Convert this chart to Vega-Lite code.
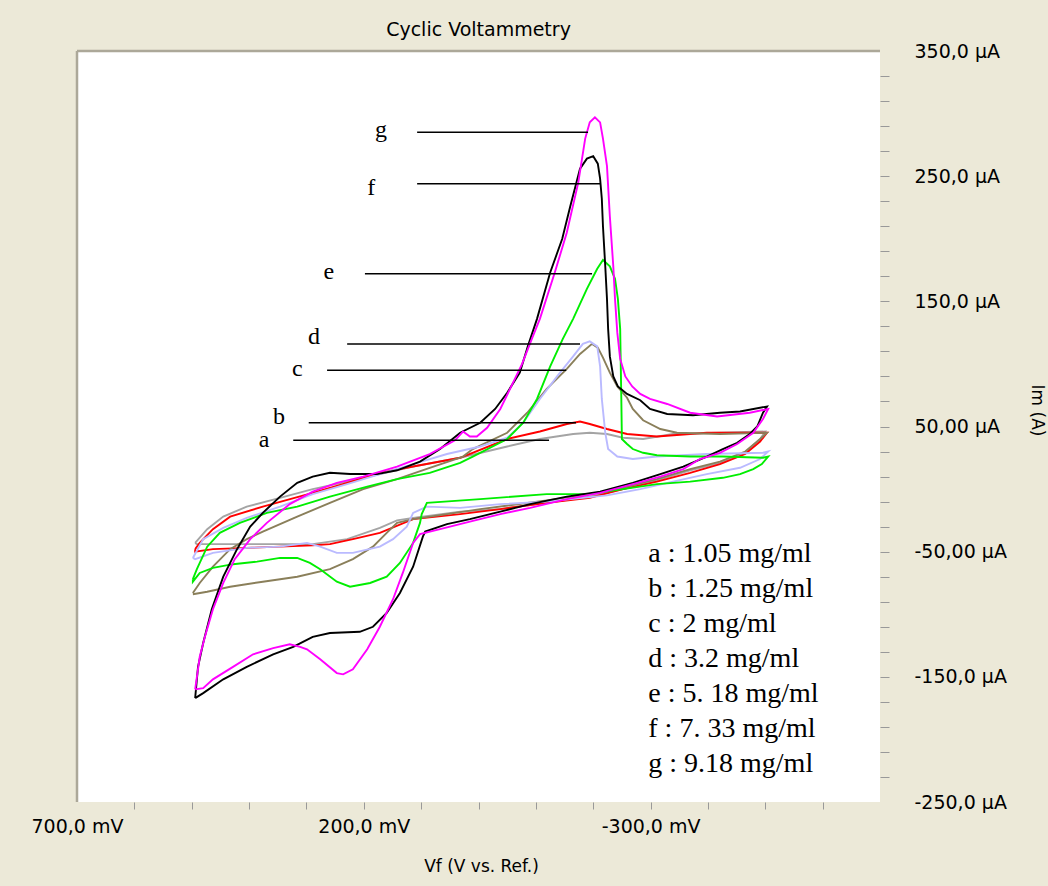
{
  "$schema": "https://vega.github.io/schema/vega-lite/v6.json",
  "width": 803,
  "height": 751,
  "autosize": "none",
  "padding": {"left": 77, "top": 51, "right": 168, "bottom": 84},
  "background": "#ECE9D8",
  "title": {"text": "Cyclic Voltammetry", "font": "DejaVu Sans", "fontSize": 19, "fontWeight": "normal", "color": "black", "offset": 2, "frame": "group"},
  "config": {
    "view": {"fill": "white", "stroke": null},
    "axis": {"grid": false, "domain": false, "labelFont": "DejaVu Sans", "titleFont": "DejaVu Sans", "labelColor": "black", "titleColor": "black", "labelFontSize": 19, "titleFontSize": 17, "titleFontWeight": "normal", "tickColor": "#999999", "labelOverlap": false}
  },
  "encoding": {
    "x": {"field": "mv", "type": "quantitative", "scale": {"domain": [700, -700], "nice": false, "zero": false},
      "axis": {"title": "Vf (V vs. Ref.)", "titleX": 404, "titleY": 64, "titleAlign": "center", "titleBaseline": "middle",
        "values": [700,600,500,400,300,200,100,0,-100,-200,-300,-400,-500,-600],
        "labelExpr": "datum.value == 700 ? '700,0 mV' : datum.value == 200 ? '200,0 mV' : datum.value == -300 ? '-300,0 mV' : ''",
        "tickSize": 7, "labelPadding": 8, "labelFlush": false, "labelDx": -6,
        "tickOpacity": {"condition": {"test": "datum.value == 700", "value": 0}, "value": 1}}},
    "y": {"field": "ua", "type": "quantitative", "scale": {"domain": [-250, 350], "nice": false, "zero": false},
      "axis": {"orient": "right", "title": "Im (A)", "titleX": 156, "titleY": 359, "titleAngle": 90, "titleAlign": "center", "titleBaseline": "middle",
        "values": [350,330,310,290,270,250,230,210,190,170,150,130,110,90,70,50,30,10,-10,-30,-50,-70,-90,-110,-130,-150,-170,-190,-210,-230,-250],
        "labelExpr": "(350 - datum.value) % 100 == 0 ? (abs(datum.value) >= 100 ? datum.value + ',0 µA' : datum.value + ',00 µA') : ''",
        "tickSize": 9, "labelPadding": 25,
        "tickOpacity": {"condition": {"test": "datum.value == 350 || datum.value == -250", "value": 0}, "value": 1}}}
  },
  "datasets": {
    "curves": [
      {"k":"a","i":1,"mv":494,"ua":-43},{"k":"a","i":2,"mv":473,"ua":-32},{"k":"a","i":3,"mv":445,"ua":-22},{"k":"a","i":4,"mv":404,"ua":-14},{"k":"a","i":5,"mv":346,"ua":-7},{"k":"a","i":6,"mv":289,"ua":0},{"k":"a","i":7,"mv":229,"ua":6},{"k":"a","i":8,"mv":172,"ua":12},{"k":"a","i":9,"mv":114,"ua":18},{"k":"a","i":10,"mv":32,"ua":25},{"k":"a","i":11,"mv":-50,"ua":34},{"k":"a","i":12,"mv":-107,"ua":40},{"k":"a","i":13,"mv":-165,"ua":44},{"k":"a","i":14,"mv":-194,"ua":45},{"k":"a","i":15,"mv":-224,"ua":44},{"k":"a","i":16,"mv":-252,"ua":41},{"k":"a","i":17,"mv":-287,"ua":40},{"k":"a","i":18,"mv":-339,"ua":44},{"k":"a","i":19,"mv":-421,"ua":45},{"k":"a","i":20,"mv":-500,"ua":46},
      {"k":"a","i":21,"mv":-491,"ua":40},{"k":"a","i":22,"mv":-465,"ua":29},{"k":"a","i":23,"mv":-421,"ua":21},{"k":"a","i":24,"mv":-369,"ua":15},{"k":"a","i":25,"mv":-311,"ua":7},{"k":"a","i":26,"mv":-252,"ua":0},{"k":"a","i":27,"mv":-194,"ua":-6},{"k":"a","i":28,"mv":-119,"ua":-11},{"k":"a","i":29,"mv":-38,"ua":-16},{"k":"a","i":30,"mv":32,"ua":-18},{"k":"a","i":31,"mv":114,"ua":-23},{"k":"a","i":32,"mv":142,"ua":-25},{"k":"a","i":33,"mv":172,"ua":-31},{"k":"a","i":34,"mv":229,"ua":-40},{"k":"a","i":35,"mv":289,"ua":-44},{"k":"a","i":36,"mv":404,"ua":-44},{"k":"a","i":37,"mv":491,"ua":-44},{"k":"a","i":38,"mv":494,"ua":-43},

      {"k":"b","i":1,"mv":494,"ua":-48},{"k":"b","i":2,"mv":486,"ua":-43},{"k":"b","i":3,"mv":463,"ua":-32},{"k":"b","i":4,"mv":433,"ua":-22},{"k":"b","i":5,"mv":376,"ua":-14},{"k":"b","i":6,"mv":289,"ua":-3},{"k":"b","i":7,"mv":229,"ua":5},{"k":"b","i":8,"mv":172,"ua":13},{"k":"b","i":9,"mv":114,"ua":18},{"k":"b","i":10,"mv":32,"ua":25},{"k":"b","i":11,"mv":-50,"ua":40},{"k":"b","i":12,"mv":-107,"ua":46},{"k":"b","i":13,"mv":-154,"ua":52},{"k":"b","i":14,"mv":-177,"ua":54},{"k":"b","i":15,"mv":-194,"ua":52},{"k":"b","i":16,"mv":-224,"ua":48},{"k":"b","i":17,"mv":-259,"ua":44},{"k":"b","i":18,"mv":-311,"ua":42},{"k":"b","i":19,"mv":-398,"ua":45},{"k":"b","i":20,"mv":-503,"ua":45},
      {"k":"b","i":21,"mv":-491,"ua":38},{"k":"b","i":22,"mv":-465,"ua":28},{"k":"b","i":23,"mv":-421,"ua":20},{"k":"b","i":24,"mv":-369,"ua":13},{"k":"b","i":25,"mv":-311,"ua":6},{"k":"b","i":26,"mv":-252,"ua":0},{"k":"b","i":27,"mv":-194,"ua":-7},{"k":"b","i":28,"mv":-119,"ua":-11},{"k":"b","i":29,"mv":-38,"ua":-16},{"k":"b","i":30,"mv":32,"ua":-20},{"k":"b","i":31,"mv":114,"ua":-24},{"k":"b","i":32,"mv":172,"ua":-35},{"k":"b","i":33,"mv":219,"ua":-40},{"k":"b","i":34,"mv":259,"ua":-44},{"k":"b","i":35,"mv":289,"ua":-45},{"k":"b","i":36,"mv":404,"ua":-47},{"k":"b","i":37,"mv":463,"ua":-48},{"k":"b","i":38,"mv":494,"ua":-50},{"k":"b","i":39,"mv":494,"ua":-48},

      {"k":"c","i":1,"mv":498,"ua":-83},{"k":"c","i":2,"mv":486,"ua":-75},{"k":"c","i":3,"mv":463,"ua":-62},{"k":"c","i":4,"mv":433,"ua":-48},{"k":"c","i":5,"mv":404,"ua":-40},{"k":"c","i":6,"mv":376,"ua":-34},{"k":"c","i":7,"mv":316,"ua":-22},{"k":"c","i":8,"mv":259,"ua":-11},{"k":"c","i":9,"mv":201,"ua":0},{"k":"c","i":10,"mv":142,"ua":8},{"k":"c","i":11,"mv":85,"ua":17},{"k":"c","i":12,"mv":27,"ua":26},{"k":"c","i":13,"mv":10,"ua":32},{"k":"c","i":14,"mv":-50,"ua":45},{"k":"c","i":15,"mv":-85,"ua":61},{"k":"c","i":16,"mv":-119,"ua":80},{"k":"c","i":17,"mv":-154,"ua":96},{"k":"c","i":18,"mv":-177,"ua":108},{"k":"c","i":19,"mv":-198,"ua":116},{"k":"c","i":20,"mv":-208,"ua":113},{"k":"c","i":21,"mv":-217,"ua":105},{"k":"c","i":22,"mv":-229,"ua":93},{"k":"c","i":23,"mv":-242,"ua":82},{"k":"c","i":24,"mv":-259,"ua":73},{"k":"c","i":25,"mv":-269,"ua":64},{"k":"c","i":26,"mv":-287,"ua":55},{"k":"c","i":27,"mv":-317,"ua":48},{"k":"c","i":28,"mv":-346,"ua":45},{"k":"c","i":29,"mv":-421,"ua":44},{"k":"c","i":30,"mv":-503,"ua":45},
      {"k":"c","i":31,"mv":-491,"ua":40},{"k":"c","i":32,"mv":-465,"ua":30},{"k":"c","i":33,"mv":-421,"ua":22},{"k":"c","i":34,"mv":-369,"ua":16},{"k":"c","i":35,"mv":-311,"ua":8},{"k":"c","i":36,"mv":-252,"ua":1},{"k":"c","i":37,"mv":-194,"ua":-4},{"k":"c","i":38,"mv":-119,"ua":-9},{"k":"c","i":39,"mv":-3,"ua":-16},{"k":"c","i":40,"mv":55,"ua":-20},{"k":"c","i":41,"mv":114,"ua":-24},{"k":"c","i":42,"mv":142,"ua":-27},{"k":"c","i":43,"mv":160,"ua":-35},{"k":"c","i":44,"mv":184,"ua":-46},{"k":"c","i":45,"mv":219,"ua":-56},{"k":"c","i":46,"mv":259,"ua":-64},{"k":"c","i":47,"mv":316,"ua":-70},{"k":"c","i":48,"mv":376,"ua":-74},{"k":"c","i":49,"mv":433,"ua":-78},{"k":"c","i":50,"mv":473,"ua":-82},{"k":"c","i":51,"mv":498,"ua":-84},

      {"k":"d","i":1,"mv":498,"ua":-55},{"k":"d","i":2,"mv":480,"ua":-40},{"k":"d","i":3,"mv":445,"ua":-31},{"k":"d","i":4,"mv":404,"ua":-23},{"k":"d","i":5,"mv":346,"ua":-14},{"k":"d","i":6,"mv":289,"ua":-4},{"k":"d","i":7,"mv":229,"ua":4},{"k":"d","i":8,"mv":172,"ua":12},{"k":"d","i":9,"mv":114,"ua":20},{"k":"d","i":10,"mv":55,"ua":28},{"k":"d","i":11,"mv":-3,"ua":34},{"k":"d","i":12,"mv":-50,"ua":41},{"k":"d","i":13,"mv":-78,"ua":53},{"k":"d","i":14,"mv":-107,"ua":72},{"k":"d","i":15,"mv":-137,"ua":90},{"k":"d","i":16,"mv":-165,"ua":106},{"k":"d","i":17,"mv":-182,"ua":116},{"k":"d","i":18,"mv":-194,"ua":118},{"k":"d","i":19,"mv":-207,"ua":114},{"k":"d","i":20,"mv":-212,"ua":98},{"k":"d","i":21,"mv":-215,"ua":72},{"k":"d","i":22,"mv":-221,"ua":45},{"k":"d","i":23,"mv":-226,"ua":32},{"k":"d","i":24,"mv":-242,"ua":26},{"k":"d","i":25,"mv":-269,"ua":24},{"k":"d","i":26,"mv":-311,"ua":26},{"k":"d","i":27,"mv":-398,"ua":28},{"k":"d","i":28,"mv":-496,"ua":29},{"k":"d","i":29,"mv":-505,"ua":30},
      {"k":"d","i":30,"mv":-491,"ua":24},{"k":"d","i":31,"mv":-456,"ua":17},{"k":"d","i":32,"mv":-398,"ua":12},{"k":"d","i":33,"mv":-339,"ua":6},{"k":"d","i":34,"mv":-282,"ua":0},{"k":"d","i":35,"mv":-224,"ua":-5},{"k":"d","i":36,"mv":-119,"ua":-10},{"k":"d","i":37,"mv":-38,"ua":-12},{"k":"d","i":38,"mv":32,"ua":-15},{"k":"d","i":39,"mv":90,"ua":-14},{"k":"d","i":40,"mv":114,"ua":-19},{"k":"d","i":41,"mv":125,"ua":-30},{"k":"d","i":42,"mv":149,"ua":-40},{"k":"d","i":43,"mv":172,"ua":-46},{"k":"d","i":44,"mv":219,"ua":-51},{"k":"d","i":45,"mv":247,"ua":-51},{"k":"d","i":46,"mv":276,"ua":-46},{"k":"d","i":47,"mv":299,"ua":-43},{"k":"d","i":48,"mv":346,"ua":-46},{"k":"d","i":49,"mv":404,"ua":-47},{"k":"d","i":50,"mv":463,"ua":-51},{"k":"d","i":51,"mv":494,"ua":-56},{"k":"d","i":52,"mv":498,"ua":-55},

      {"k":"e","i":1,"mv":498,"ua":-72},{"k":"e","i":2,"mv":491,"ua":-64},{"k":"e","i":3,"mv":473,"ua":-46},{"k":"e","i":4,"mv":451,"ua":-35},{"k":"e","i":5,"mv":416,"ua":-27},{"k":"e","i":6,"mv":369,"ua":-19},{"k":"e","i":7,"mv":316,"ua":-14},{"k":"e","i":8,"mv":259,"ua":-6},{"k":"e","i":9,"mv":194,"ua":2},{"k":"e","i":10,"mv":142,"ua":8},{"k":"e","i":11,"mv":85,"ua":13},{"k":"e","i":12,"mv":32,"ua":21},{"k":"e","i":13,"mv":10,"ua":26},{"k":"e","i":14,"mv":-50,"ua":40},{"k":"e","i":15,"mv":-78,"ua":53},{"k":"e","i":16,"mv":-102,"ua":72},{"k":"e","i":17,"mv":-125,"ua":98},{"k":"e","i":18,"mv":-147,"ua":120},{"k":"e","i":19,"mv":-165,"ua":136},{"k":"e","i":20,"mv":-189,"ua":160},{"k":"e","i":21,"mv":-207,"ua":176},{"k":"e","i":22,"mv":-217,"ua":183},{"k":"e","i":23,"mv":-229,"ua":178},{"k":"e","i":24,"mv":-238,"ua":168},{"k":"e","i":25,"mv":-243,"ua":152},{"k":"e","i":26,"mv":-247,"ua":128},{"k":"e","i":27,"mv":-249,"ua":72},{"k":"e","i":28,"mv":-250,"ua":40},{"k":"e","i":29,"mv":-259,"ua":36},{"k":"e","i":30,"mv":-269,"ua":32},{"k":"e","i":31,"mv":-287,"ua":29},{"k":"e","i":32,"mv":-311,"ua":27},{"k":"e","i":33,"mv":-369,"ua":26},{"k":"e","i":34,"mv":-426,"ua":26},{"k":"e","i":35,"mv":-496,"ua":25},{"k":"e","i":36,"mv":-505,"ua":26},
      {"k":"e","i":37,"mv":-494,"ua":20},{"k":"e","i":38,"mv":-479,"ua":16},{"k":"e","i":39,"mv":-456,"ua":12},{"k":"e","i":40,"mv":-426,"ua":9},{"k":"e","i":41,"mv":-369,"ua":6},{"k":"e","i":42,"mv":-311,"ua":4},{"k":"e","i":43,"mv":-252,"ua":0},{"k":"e","i":44,"mv":-194,"ua":-4},{"k":"e","i":45,"mv":-119,"ua":-4},{"k":"e","i":46,"mv":-3,"ua":-8},{"k":"e","i":47,"mv":90,"ua":-11},{"k":"e","i":48,"mv":99,"ua":-20},{"k":"e","i":49,"mv":102,"ua":-27},{"k":"e","i":50,"mv":114,"ua":-43},{"k":"e","i":51,"mv":137,"ua":-59},{"k":"e","i":52,"mv":160,"ua":-70},{"k":"e","i":53,"mv":189,"ua":-75},{"k":"e","i":54,"mv":224,"ua":-78},{"k":"e","i":55,"mv":247,"ua":-74},{"k":"e","i":56,"mv":276,"ua":-64},{"k":"e","i":57,"mv":294,"ua":-59},{"k":"e","i":58,"mv":316,"ua":-55},{"k":"e","i":59,"mv":346,"ua":-55},{"k":"e","i":60,"mv":386,"ua":-58},{"k":"e","i":61,"mv":428,"ua":-60},{"k":"e","i":62,"mv":463,"ua":-63},{"k":"e","i":63,"mv":486,"ua":-67},{"k":"e","i":64,"mv":498,"ua":-74},{"k":"e","i":65,"mv":498,"ua":-72},

      {"k":"f","i":1,"mv":494,"ua":-167},{"k":"f","i":2,"mv":489,"ua":-142},{"k":"f","i":3,"mv":480,"ua":-123},{"k":"f","i":4,"mv":465,"ua":-96},{"k":"f","i":5,"mv":445,"ua":-70},{"k":"f","i":6,"mv":421,"ua":-48},{"k":"f","i":7,"mv":398,"ua":-30},{"k":"f","i":8,"mv":376,"ua":-19},{"k":"f","i":9,"mv":346,"ua":-6},{"k":"f","i":10,"mv":316,"ua":5},{"k":"f","i":11,"mv":289,"ua":10},{"k":"f","i":12,"mv":259,"ua":13},{"k":"f","i":13,"mv":224,"ua":12},{"k":"f","i":14,"mv":177,"ua":12},{"k":"f","i":15,"mv":142,"ua":15},{"k":"f","i":16,"mv":102,"ua":22},{"k":"f","i":17,"mv":67,"ua":32},{"k":"f","i":18,"mv":32,"ua":45},{"k":"f","i":19,"mv":-3,"ua":53},{"k":"f","i":20,"mv":-29,"ua":64},{"k":"f","i":21,"mv":-50,"ua":77},{"k":"f","i":22,"mv":-72,"ua":93},{"k":"f","i":23,"mv":-86,"ua":114},{"k":"f","i":24,"mv":-102,"ua":136},{"k":"f","i":25,"mv":-125,"ua":173},{"k":"f","i":26,"mv":-146,"ua":200},{"k":"f","i":27,"mv":-160,"ua":226},{"k":"f","i":28,"mv":-177,"ua":256},{"k":"f","i":29,"mv":-189,"ua":264},{"k":"f","i":30,"mv":-200,"ua":266},{"k":"f","i":31,"mv":-208,"ua":260},{"k":"f","i":32,"mv":-212,"ua":248},{"k":"f","i":33,"mv":-215,"ua":232},{"k":"f","i":34,"mv":-217,"ua":210},{"k":"f","i":35,"mv":-221,"ua":178},{"k":"f","i":36,"mv":-224,"ua":152},{"k":"f","i":37,"mv":-226,"ua":128},{"k":"f","i":38,"mv":-229,"ua":106},{"k":"f","i":39,"mv":-235,"ua":90},{"k":"f","i":40,"mv":-243,"ua":82},{"k":"f","i":41,"mv":-259,"ua":76},{"k":"f","i":42,"mv":-282,"ua":71},{"k":"f","i":43,"mv":-299,"ua":64},{"k":"f","i":44,"mv":-329,"ua":60},{"k":"f","i":45,"mv":-374,"ua":59},{"k":"f","i":46,"mv":-421,"ua":61},{"k":"f","i":47,"mv":-456,"ua":62},{"k":"f","i":48,"mv":-503,"ua":66},
      {"k":"f","i":49,"mv":-496,"ua":61},{"k":"f","i":50,"mv":-486,"ua":50},{"k":"f","i":51,"mv":-473,"ua":44},{"k":"f","i":52,"mv":-451,"ua":37},{"k":"f","i":53,"mv":-426,"ua":32},{"k":"f","i":54,"mv":-398,"ua":26},{"k":"f","i":55,"mv":-357,"ua":18},{"k":"f","i":56,"mv":-317,"ua":12},{"k":"f","i":57,"mv":-269,"ua":5},{"k":"f","i":58,"mv":-212,"ua":-2},{"k":"f","i":59,"mv":-154,"ua":-6},{"k":"f","i":60,"mv":-90,"ua":-12},{"k":"f","i":61,"mv":-38,"ua":-18},{"k":"f","i":62,"mv":15,"ua":-24},{"k":"f","i":63,"mv":55,"ua":-28},{"k":"f","i":64,"mv":93,"ua":-34},{"k":"f","i":65,"mv":97,"ua":-38},{"k":"f","i":66,"mv":114,"ua":-62},{"k":"f","i":67,"mv":137,"ua":-83},{"k":"f","i":68,"mv":160,"ua":-99},{"k":"f","i":69,"mv":184,"ua":-110},{"k":"f","i":70,"mv":207,"ua":-114},{"k":"f","i":71,"mv":259,"ua":-115},{"k":"f","i":72,"mv":289,"ua":-118},{"k":"f","i":73,"mv":306,"ua":-122},{"k":"f","i":74,"mv":323,"ua":-126},{"k":"f","i":75,"mv":358,"ua":-132},{"k":"f","i":76,"mv":404,"ua":-142},{"k":"f","i":77,"mv":445,"ua":-152},{"k":"f","i":78,"mv":480,"ua":-163},{"k":"f","i":79,"mv":494,"ua":-167},

      {"k":"g","i":1,"mv":494,"ua":-160},{"k":"g","i":2,"mv":486,"ua":-134},{"k":"g","i":3,"mv":477,"ua":-118},{"k":"g","i":4,"mv":463,"ua":-96},{"k":"g","i":5,"mv":445,"ua":-75},{"k":"g","i":6,"mv":425,"ua":-56},{"k":"g","i":7,"mv":398,"ua":-40},{"k":"g","i":8,"mv":369,"ua":-27},{"k":"g","i":9,"mv":329,"ua":-12},{"k":"g","i":10,"mv":289,"ua":-2},{"k":"g","i":11,"mv":247,"ua":5},{"k":"g","i":12,"mv":201,"ua":10},{"k":"g","i":13,"mv":142,"ua":18},{"k":"g","i":14,"mv":85,"ua":28},{"k":"g","i":15,"mv":41,"ua":39},{"k":"g","i":16,"mv":27,"ua":46},{"k":"g","i":17,"mv":15,"ua":42},{"k":"g","i":18,"mv":3,"ua":42},{"k":"g","i":19,"mv":-15,"ua":49},{"k":"g","i":20,"mv":-38,"ua":64},{"k":"g","i":21,"mv":-55,"ua":80},{"k":"g","i":22,"mv":-76,"ua":100},{"k":"g","i":23,"mv":-93,"ua":120},{"k":"g","i":24,"mv":-107,"ua":136},{"k":"g","i":25,"mv":-133,"ua":173},{"k":"g","i":26,"mv":-154,"ua":205},{"k":"g","i":27,"mv":-174,"ua":245},{"k":"g","i":28,"mv":-186,"ua":280},{"k":"g","i":29,"mv":-194,"ua":293},{"k":"g","i":30,"mv":-203,"ua":297},{"k":"g","i":31,"mv":-212,"ua":293},{"k":"g","i":32,"mv":-217,"ua":280},{"k":"g","i":33,"mv":-224,"ua":258},{"k":"g","i":34,"mv":-229,"ua":218},{"k":"g","i":35,"mv":-235,"ua":178},{"k":"g","i":36,"mv":-238,"ua":152},{"k":"g","i":37,"mv":-242,"ua":125},{"k":"g","i":38,"mv":-247,"ua":104},{"k":"g","i":39,"mv":-256,"ua":90},{"k":"g","i":40,"mv":-268,"ua":82},{"k":"g","i":41,"mv":-282,"ua":76},{"k":"g","i":42,"mv":-299,"ua":72},{"k":"g","i":43,"mv":-329,"ua":68},{"k":"g","i":44,"mv":-369,"ua":61},{"k":"g","i":45,"mv":-416,"ua":58},{"k":"g","i":46,"mv":-473,"ua":61},{"k":"g","i":47,"mv":-505,"ua":64},
      {"k":"g","i":48,"mv":-496,"ua":56},{"k":"g","i":49,"mv":-479,"ua":45},{"k":"g","i":50,"mv":-451,"ua":36},{"k":"g","i":51,"mv":-421,"ua":29},{"k":"g","i":52,"mv":-386,"ua":24},{"k":"g","i":53,"mv":-357,"ua":16},{"k":"g","i":54,"mv":-317,"ua":10},{"k":"g","i":55,"mv":-269,"ua":4},{"k":"g","i":56,"mv":-212,"ua":-3},{"k":"g","i":57,"mv":-154,"ua":-8},{"k":"g","i":58,"mv":-90,"ua":-15},{"k":"g","i":59,"mv":-38,"ua":-20},{"k":"g","i":60,"mv":15,"ua":-26},{"k":"g","i":61,"mv":67,"ua":-32},{"k":"g","i":62,"mv":102,"ua":-36},{"k":"g","i":63,"mv":114,"ua":-43},{"k":"g","i":64,"mv":132,"ua":-67},{"k":"g","i":65,"mv":149,"ua":-88},{"k":"g","i":66,"mv":172,"ua":-110},{"k":"g","i":67,"mv":194,"ua":-128},{"k":"g","i":68,"mv":219,"ua":-144},{"k":"g","i":69,"mv":236,"ua":-148},{"k":"g","i":70,"mv":247,"ua":-147},{"k":"g","i":71,"mv":276,"ua":-136},{"k":"g","i":72,"mv":299,"ua":-128},{"k":"g","i":73,"mv":311,"ua":-126},{"k":"g","i":74,"mv":329,"ua":-124},{"k":"g","i":75,"mv":358,"ua":-127},{"k":"g","i":76,"mv":393,"ua":-132},{"k":"g","i":77,"mv":428,"ua":-142},{"k":"g","i":78,"mv":463,"ua":-152},{"k":"g","i":79,"mv":480,"ua":-159},{"k":"g","i":80,"mv":494,"ua":-160}
    ],
    "pointers": [
      {"k":"g","mv":107,"mv2":-191,"ua":285},
      {"k":"f","mv":107,"mv2":-212,"ua":244},
      {"k":"e","mv":198,"mv2":-198,"ua":172},
      {"k":"d","mv":229,"mv2":-177,"ua":116},
      {"k":"c","mv":264,"mv2":-153,"ua":95},
      {"k":"b","mv":296,"mv2":-170,"ua":53},
      {"k":"a","mv":323,"mv2":-123,"ua":39}
    ],
    "letters": [
      {"k":"g","mv":170,"ua":281},
      {"k":"f","mv":187,"ua":235},
      {"k":"e","mv":261,"ua":168},
      {"k":"d","mv":287,"ua":116},
      {"k":"c","mv":316,"ua":90},
      {"k":"b","mv":348,"ua":52},
      {"k":"a","mv":374,"ua":34}
    ],
    "legendtext": [
      {"t":"a : 1.05 mg/ml","mv":-296,"ua":-52},
      {"t":"b : 1.25 mg/ml","mv":-296,"ua":-80},
      {"t":"c : 2 mg/ml","mv":-296,"ua":-108},
      {"t":"d : 3.2 mg/ml","mv":-296,"ua":-136},
      {"t":"e : 5. 18 mg/ml","mv":-296,"ua":-164},
      {"t":"f : 7. 33 mg/ml","mv":-296,"ua":-192},
      {"t":"g : 9.18 mg/ml","mv":-296,"ua":-220}
    ],
    "topedge": [{"ua": 350}],
    "leftedge": [{"mv": 700}]
  },
  "layer": [
    {
      "data": {"name": "curves"},
      "mark": {"type": "line", "strokeWidth": 1.9, "interpolate": "linear"},
      "encoding": {
        "color": {"field": "k", "type": "nominal", "legend": null,
          "scale": {"domain": ["a","b","c","d","e","f","g"], "range": ["#a4a4a4","#ff0000","#8a7f5a","#babaff","#00ee00","#000000","#ff00ff"]}},
        "order": {"field": "i", "type": "quantitative"}
      }
    },
    {
      "data": {"name": "topedge"},
      "mark": {"type": "rule", "color": "#aca899", "strokeWidth": 2.5},
      "encoding": {"x": null}
    },
    {
      "data": {"name": "leftedge"},
      "mark": {"type": "rule", "color": "#aca899", "strokeWidth": 2.5},
      "encoding": {"y": null}
    },
    {
      "data": {"name": "pointers"},
      "mark": {"type": "rule", "color": "black", "strokeWidth": 1.5},
      "encoding": {"x2": {"field": "mv2"}}
    },
    {
      "data": {"name": "letters"},
      "mark": {"type": "text", "font": "Liberation Serif", "fontSize": 24, "color": "black", "align": "center", "baseline": "alphabetic"},
      "encoding": {"text": {"field": "k"}}
    },
    {
      "data": {"name": "legendtext"},
      "mark": {"type": "text", "font": "Liberation Serif", "fontSize": 28, "color": "black", "align": "left", "baseline": "middle"},
      "encoding": {"text": {"field": "t"}}
    }
  ]
}
